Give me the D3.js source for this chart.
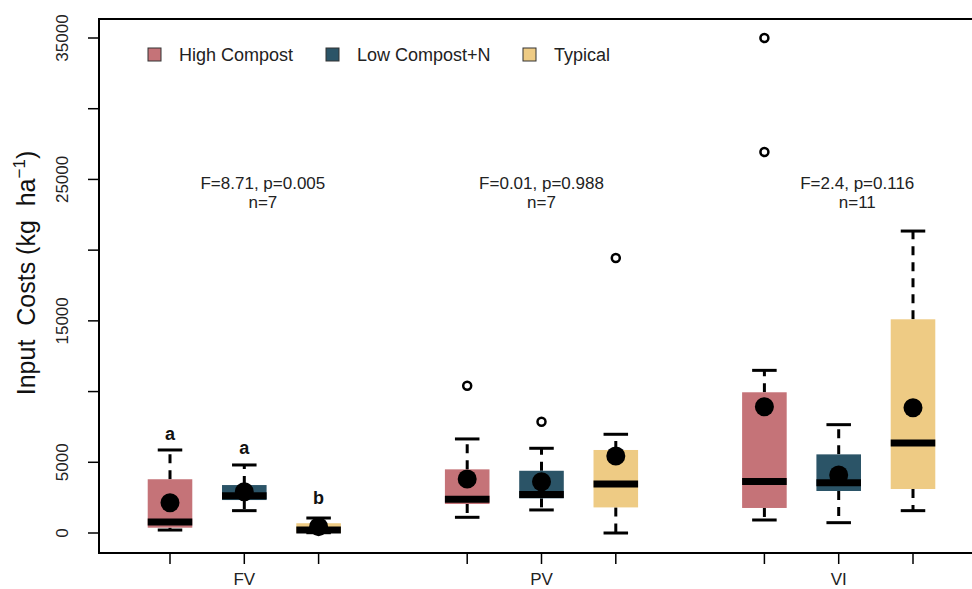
<!DOCTYPE html>
<html>
<head>
<meta charset="utf-8">
<script src="https://cdn.jsdelivr.net/npm/d3@7"></script>
<style>
  body { margin: 0; background: #fff; }
  text { font-family: "Liberation Sans", Arial, sans-serif; white-space: pre; }
</style>
</head>
<body>
<div id="vis-holder"></div>
<script>
// Chart size
const width = 972;
const height = 589;

// Data
const sites = ["FV", "PV", "VI"];
const treatments = ["High Compost", "Low Compost+N", "Typical"];
const colors = ["#c57378", "#2b5467", "#eecb84"];
const yTicks = [0, 5000, 10000, 15000, 20000, 25000, 30000, 35000];
const yLabels = [0, 5000, 15000, 25000, 35000];

// one entry per box, in drawing order (site, treatment)
const boxSite  = [0, 0, 0, 1, 1, 1, 2, 2, 2];
const boxTreat = [0, 1, 2, 0, 1, 2, 0, 1, 2];
const boxPos   = [1, 2, 3, 5, 6, 7, 9, 10, 11];
const whiskLo  = [210, 1580, 20, 1110, 1630, 0, 920, 730, 1580];
const q1       = [375, 2330, 20, 2050, 2450, 1810, 1770, 2970, 3110];
const medians  = [780, 2640, 210, 2380, 2730, 3460, 3650, 3560, 6360];
const q3       = [3800, 3390, 690, 4500, 4400, 5870, 9950, 5560, 15110];
const whiskHi  = [5870, 4810, 1060, 6650, 5990, 6980, 11500, 7660, 21350];
const means    = [2140, 2920, 450, 3820, 3630, 5440, 8930, 4100, 8860];
const outliers = [[], [], [], [10415], [7870], [19440], [35000, 26940], [], []];

// letters over FV boxes
const letters = ["a", "a", "b"];
const letterY = [7000, 6000, 2450];

// ANOVA annotations per site
const statText = ["F=8.71, p=0.005", "F=0.01, p=0.988", "F=2.4, p=0.116"];
const nText = ["n=7", "n=7", "n=11"];
const statPos = [2.25, 6, 10.25];

const svg = d3.select("#vis-holder")
  .append("svg")
  .attr("width", width)
  .attr("height", height);

const x = d3.scaleLinear().domain([1, 11]).range([170, 913]);
const y = d3.scaleLinear().domain([0, 35000]).range([533, 38]);

const boxW = (x(2) - x(1)) * 0.6;
const capW = boxW * 0.55;

// frame
const frameL = 99, frameT = 19, frameB = 553, frameR = 976;
svg.append("rect")
  .attr("x", frameL).attr("y", frameT)
  .attr("width", frameR - frameL).attr("height", frameB - frameT)
  .attr("fill", "none").attr("stroke", "#000").attr("stroke-width", 2);

// y axis ticks
svg.selectAll(".ytick")
  .data(yTicks)
  .enter()
  .append("line")
  .attr("x1", frameL - 11).attr("x2", frameL)
  .attr("y1", d => y(d)).attr("y2", d => y(d))
  .attr("stroke", "#000").attr("stroke-width", 1.5);

svg.selectAll(".ylab")
  .data(yLabels)
  .enter()
  .append("text")
  .attr("transform", d => `translate(68,${y(d)}) rotate(-90)`)
  .attr("text-anchor", "middle")
  .attr("font-size", 17)
  .attr("fill", "#222")
  .text(d => d);

// y title
const yt = svg.append("text")
  .attr("transform", `translate(35,${273}) rotate(-90)`)
  .attr("text-anchor", "middle")
  .attr("font-size", 25)
  .attr("fill", "#111");
yt.append("tspan").text("Input  Costs (kg  ha");
yt.append("tspan").attr("dy", -10).attr("font-size", 17).text("\u22121");
yt.append("tspan").attr("dy", 10).text(")");

// x ticks
svg.selectAll(".xtick")
  .data(boxPos)
  .enter()
  .append("line")
  .attr("x1", d => x(d)).attr("x2", d => x(d))
  .attr("y1", frameB).attr("y2", frameB + 11)
  .attr("stroke", "#000").attr("stroke-width", 1.5);

svg.selectAll(".xlab")
  .data(sites)
  .enter()
  .append("text")
  .attr("x", (d, i) => x(boxPos[i * 3 + 1]))
  .attr("y", 585)
  .attr("text-anchor", "middle")
  .attr("font-size", 17)
  .attr("fill", "#222")
  .text(d => d);

// boxes
const idx = d3.range(boxPos.length);
const g = svg.append("g");

// whiskers (dashed)
g.selectAll(".wh-up").data(idx).enter().append("line")
  .attr("x1", i => x(boxPos[i])).attr("x2", i => x(boxPos[i]))
  .attr("y1", i => y(q3[i])).attr("y2", i => y(whiskHi[i]))
  .attr("stroke", "#000").attr("stroke-width", 3).attr("stroke-dasharray", "9,7");
g.selectAll(".wh-lo").data(idx).enter().append("line")
  .attr("x1", i => x(boxPos[i])).attr("x2", i => x(boxPos[i]))
  .attr("y1", i => y(q1[i])).attr("y2", i => y(whiskLo[i]))
  .attr("stroke", "#000").attr("stroke-width", 3).attr("stroke-dasharray", "9,7");

// caps
g.selectAll(".cap-up").data(idx).enter().append("line")
  .attr("x1", i => x(boxPos[i]) - capW / 2).attr("x2", i => x(boxPos[i]) + capW / 2)
  .attr("y1", i => y(whiskHi[i])).attr("y2", i => y(whiskHi[i]))
  .attr("stroke", "#000").attr("stroke-width", 3);
g.selectAll(".cap-lo").data(idx).enter().append("line")
  .attr("x1", i => x(boxPos[i]) - capW / 2).attr("x2", i => x(boxPos[i]) + capW / 2)
  .attr("y1", i => y(whiskLo[i])).attr("y2", i => y(whiskLo[i]))
  .attr("stroke", "#000").attr("stroke-width", 3);

g.selectAll(".box").data(idx).enter().append("rect")
  .attr("x", i => x(boxPos[i]) - boxW / 2)
  .attr("width", boxW)
  .attr("y", i => y(q3[i]))
  .attr("height", i => Math.max(y(q1[i]) - y(q3[i]), 1))
  .attr("fill", i => colors[boxTreat[i]]);

g.selectAll(".med").data(idx).enter().append("line")
  .attr("x1", i => x(boxPos[i]) - boxW / 2).attr("x2", i => x(boxPos[i]) + boxW / 2)
  .attr("y1", i => y(medians[i])).attr("y2", i => y(medians[i]))
  .attr("stroke", "#000").attr("stroke-width", 7);

g.selectAll(".mean").data(idx).enter().append("circle")
  .attr("cx", i => x(boxPos[i]))
  .attr("cy", i => y(means[i]))
  .attr("r", 9.5)
  .attr("fill", "#000");

// outliers
const outData = idx.flatMap(i => outliers[i].map(v => ({ p: boxPos[i], v: v })));
g.selectAll(".out").data(outData).enter().append("circle")
  .attr("cx", d => x(d.p))
  .attr("cy", d => y(d.v))
  .attr("r", 4)
  .attr("fill", "none")
  .attr("stroke", "#000")
  .attr("stroke-width", 2.5);

// letters
svg.selectAll(".letter").data(letters).enter().append("text")
  .attr("x", (d, i) => x(boxPos[i]))
  .attr("y", (d, i) => y(letterY[i]) + 6)
  .attr("text-anchor", "middle")
  .attr("font-size", 18)
  .attr("font-weight", "bold")
  .attr("fill", "#111")
  .text(d => d);

// stats
svg.selectAll(".stat").data(statText).enter().append("text")
  .attr("x", (d, i) => x(statPos[i]))
  .attr("y", 189)
  .attr("text-anchor", "middle")
  .attr("font-size", 17)
  .attr("fill", "#222")
  .text(d => d);
svg.selectAll(".nlab").data(nText).enter().append("text")
  .attr("x", (d, i) => x(statPos[i]))
  .attr("y", 208)
  .attr("text-anchor", "middle")
  .attr("font-size", 17)
  .attr("fill", "#222")
  .text(d => d);

// legend
const legX = [148, 326, 523];
const leg = svg.selectAll(".leg").data(treatments).enter().append("g")
  .attr("transform", (d, i) => `translate(${legX[i]},48)`);
leg.append("rect")
  .attr("width", 13).attr("height", 13)
  .attr("fill", (d, i) => colors[i])
  .attr("stroke", "#333").attr("stroke-width", 1);
leg.append("text")
  .attr("x", 31).attr("y", 13)
  .attr("font-size", 18)
  .attr("fill", "#222")
  .text(d => d);
</script>
</body>
</html>
